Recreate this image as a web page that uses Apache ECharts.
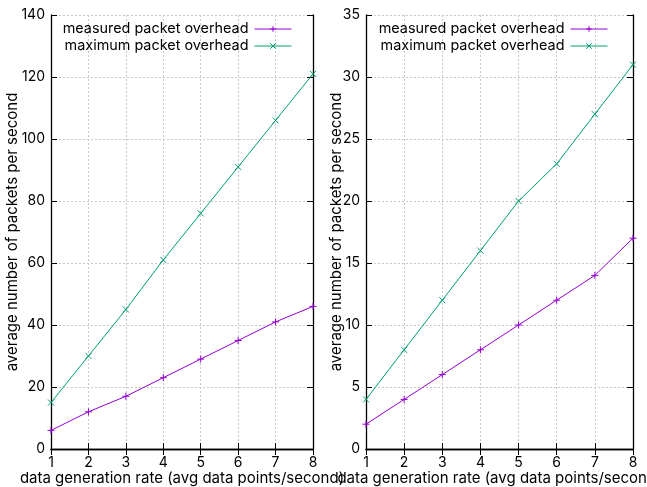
<!DOCTYPE html>
<html><head><meta charset="utf-8">
<script src="https://cdn.jsdelivr.net/npm/echarts@6/dist/echarts.min.js"></script>
<style>html,body{margin:0;padding:0;background:#fff}#c{width:647px;height:487px}</style>
</head><body><div id="c"></div>
<script>
const rates = [1, 2, 3, 4, 5, 6, 7, 8];
const leftMeasured = [6, 12, 17, 23, 29, 35, 41, 46];
const leftMaximum = [15, 30, 45, 61, 76, 91, 106, 121];
const rightMeasured = [2, 4, 6, 8, 10, 12, 14, 17];
const rightMaximum = [4, 8, 12, 16, 20, 23, 27, 31];
const seriesNames = ['measured packet overhead', 'maximum packet overhead'];
const xTitle = 'data generation rate (avg data points/second)';
const yTitle = 'average number of packets per second';

const FONT = 'Inter';
const PURPLE = '#9400d3', GREEN = '#009e73';
const PLUS = 'path://M0,-1L0,1M-1,0L1,0';
const CROSS = 'path://M-1,-1L1,1M-1,1L1,-1';
const pairs = (ys) => rates.map((x, i) => [x, ys[i]]);

const chart = echarts.init(document.getElementById('c'), null, {renderer: 'canvas'});
const grids = [
  {left: 51, right: 334, top: 15, bottom: 38, outerBoundsMode: 'none', containLabel: false},
  {left: 366, right: 14, top: 15, bottom: 38, outerBoundsMode: 'none', containLabel: false}
];
const yCfg = [{max: 140, interval: 20}, {max: 35, interval: 5}];
const axisLine = {show: true, lineStyle: {color: '#000', width: 1.3}};
const tick = {show: true, inside: true, length: 6, lineStyle: {color: '#000', width: 1}};
const grid2 = {show: true, lineStyle: {color: '#c8c8c8', type: [2, 2], width: 1}};
const xAxes = [], yAxes = [], series = [];
[0, 1].forEach(g => {
  xAxes.push({type: 'value', gridIndex: g, min: 1, max: 8, interval: 1, position: 'bottom',
    axisLine, axisTick: tick,
    axisLabel: {color: '#000', fontFamily: FONT, fontSize: 14, margin: 7},
    splitLine: grid2,
    name: xTitle, nameLocation: 'middle', nameGap: 22, nameMoveOverlap: false,
    nameTextStyle: {color: '#000', fontFamily: FONT, fontSize: 15}});
  xAxes.push({type: 'value', gridIndex: g, min: 1, max: 8, interval: 1, position: 'top',
    axisLine, axisTick: tick, axisLabel: {show: false}, splitLine: {show: false}});
  yAxes.push({type: 'value', gridIndex: g, min: 0, max: yCfg[g].max, interval: yCfg[g].interval, position: 'left',
    axisLine, axisTick: tick,
    axisLabel: {color: '#000', fontFamily: FONT, fontSize: 14, margin: 6},
    splitLine: grid2,
    name: yTitle, nameLocation: 'middle', nameGap: g === 0 ? 31 : 22, nameRotate: 90, nameMoveOverlap: false,
    nameTextStyle: {color: '#000', fontFamily: FONT, fontSize: 15}});
  yAxes.push({type: 'value', gridIndex: g, min: 0, max: yCfg[g].max, interval: yCfg[g].interval, position: 'right',
    axisLine, axisTick: tick, axisLabel: {show: false}, splitLine: {show: false}});
});
const data = [[leftMeasured, leftMaximum], [rightMeasured, rightMaximum]];
[0, 1].forEach(g => {
  [0, 1].forEach(s => {
    const color = s === 0 ? PURPLE : GREEN;
    series.push({type: 'line', name: seriesNames[s], xAxisIndex: g * 2, yAxisIndex: g * 2,
      data: pairs(data[g][s]), symbol: s === 0 ? PLUS : CROSS, symbolSize: s === 0 ? 7 : 6,
      showAllSymbol: true, animation: false,
      lineStyle: {color, width: 1},
      itemStyle: {color: 'none', borderColor: color, borderWidth: 1}});
  });
});
const legendCfg = (right) => ({
  right, top: 22, orient: 'vertical', align: 'right', itemGap: 3, itemWidth: 37, itemHeight: 7,
  textStyle: {color: '#000', fontFamily: FONT, fontSize: 14.4, padding: [0, 1, 0, 0]},
  lineStyle: {width: 1}, itemStyle: {borderWidth: 1},
  data: seriesNames, selectedMode: false, padding: 0
});
chart.setOption({
  backgroundColor: '#fff', animation: false,
  grid: grids, xAxis: xAxes, yAxis: yAxes, series,
  legend: [legendCfg(355), legendCfg(39)]
});
</script></body></html>
